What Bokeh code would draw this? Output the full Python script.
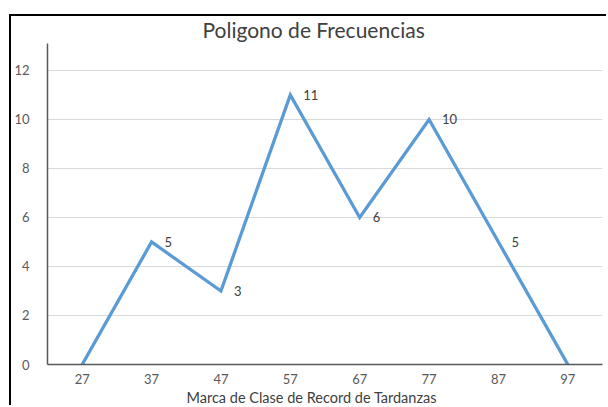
from bokeh.plotting import figure
from bokeh.models import FactorRange, Range1d, FixedTicker, Title
from bokeh.core.properties import value
from bokeh.embed import file_html
from bokeh.resources import INLINE

# data
clases = ["27", "37", "47", "57", "67", "77", "87", "97"]
frecuencias = [0, 5, 3, 11, 6, 10, 5, 0]
y_ticks = [0, 2, 4, 6, 8, 10, 12]
titulo = "Poligono de Frecuencias"
eje_x = "Marca de Clase  de Record de Tardanzas"

FONT = "Lato"
LINE = "#5B9BD5"

p = figure(
    width=597, height=391,
    x_range=FactorRange(*clases, range_padding=0),
    y_range=Range1d(0, 13.1),
    output_backend="svg", toolbar_location=None,
    min_border_left=35, min_border_right=6, min_border_top=26, min_border_bottom=43,
    background_fill_color="white", border_fill_color="white",
    title=titulo,
)
p.styles = {"margin-top": "14px", "margin-left": "9px",
            "border-left": "2px solid #000", "border-top": "2px solid #000"}
p.title.align = "left"
p.title.offset = 155
p.title.standoff = 0
p.title.vertical_align = "top"
p.title.text_font = FONT
p.title.text_font_size = "21px"
p.title.text_font_style = "normal"
p.title.text_color = "#404040"

p.outline_line_color = None
p.xgrid.grid_line_color = None
p.ygrid.grid_line_color = "#d9d9d9"
p.ygrid.grid_line_width = 1
p.yaxis.ticker = FixedTicker(ticks=y_ticks)

for ax in (p.xaxis[0], p.yaxis[0]):
    ax.axis_line_color = "#595959"
    ax.axis_line_width = 1.5
    ax.major_tick_line_color = None
    ax.minor_tick_line_color = None
    ax.major_label_text_font = FONT
    ax.major_label_text_font_size = "13px"
    ax.major_label_text_color = "#595959"
    ax.axis_label_standoff = 0
p.yaxis.major_label_standoff = 12
p.xaxis.major_label_standoff = 3

p.line(x=clases, y=frecuencias, line_color=LINE, line_width=3.3, line_join="miter")

lx = [c for c, v in zip(clases, frecuencias) if v != 0]
ly = [v for v in frecuencias if v != 0]
lt = [str(v) for v in ly]
p.text(x=lx, y=ly, text=lt, x_offset=13, text_align="left", text_baseline="middle",
       text_font=value(FONT), text_font_size="13px", text_color="#404040")

p.add_layout(Title(text=eje_x, align="left", offset=139, standoff=0,
                   text_font=FONT, text_font_size="14.5px", text_font_style="normal",
                   text_color="#404040"), "below")

open("out.html", "w").write(file_html(p, INLINE))
